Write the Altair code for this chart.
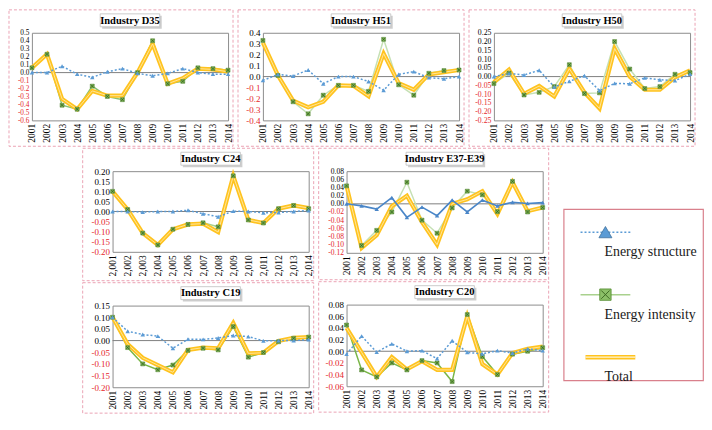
import altair as alt
import pandas as pd

FONT = "Liberation Serif, Times New Roman, serif"
S_NAME = "Energy structure"
I_NAME = "Energy intensity"
T_NAME = "Total"
SERIES = [S_NAME, I_NAME, T_NAME]

YEARS = ["2001", "2002", "2003", "2004", "2005", "2006", "2007",
         "2008", "2009", "2010", "2011", "2012", "2013", "2014"]

# ---- Industry D35
D35_structure = [0.00, 0.00, 0.08, -0.02, -0.06, 0.01, 0.05, -0.01, -0.04, -0.01, 0.05, 0.00, -0.02, -0.02]
D35_intensity = [0.06, 0.23, -0.41, -0.46, -0.17, -0.30, -0.34, 0.00, 0.40, -0.14, -0.11, 0.06, 0.05, 0.03]
D35_total = [0.06, 0.23, -0.33, -0.46, -0.23, -0.29, -0.29, 0.00, 0.36, -0.14, -0.07, 0.05, 0.04, 0.01]
D35_ticks = [-0.6, -0.5, -0.4, -0.3, -0.2, -0.1, 0.0, 0.1, 0.2, 0.3, 0.4, 0.5]

# ---- Industry H51
H51_structure = [-0.035, 0.02, 0.005, 0.06, -0.065, 0.0, 0.0, -0.045, -0.125, 0.02, 0.045, -0.01, -0.02, 0.0]
H51_intensity = [0.33, 0.01, -0.23, -0.34, -0.17, -0.08, -0.08, -0.135, 0.34, -0.075, -0.17, 0.03, 0.055, 0.06]
H51_total = [0.31, 0.01, -0.22, -0.28, -0.23, -0.08, -0.085, -0.18, 0.21, -0.06, -0.12, 0.02, 0.04, 0.06]
H51_ticks = [-0.4, -0.3, -0.2, -0.1, 0.0, 0.1, 0.2, 0.3, 0.4]

# ---- Industry H50
H50_structure = [0.0, 0.018, 0.009, 0.036, -0.059, -0.027, 0.005, -0.08, -0.039, -0.041, -0.007, -0.018, -0.023, 0.014]
H50_intensity = [-0.04, 0.02, -0.105, -0.09, -0.057, 0.068, -0.097, -0.093, 0.20, 0.043, -0.068, -0.057, 0.013, 0.023]
H50_total = [-0.032, 0.04, -0.098, -0.054, -0.113, 0.045, -0.09, -0.182, 0.16, 0.0, -0.075, -0.075, -0.004, 0.036]
H50_ticks = [-0.25, -0.20, -0.15, -0.10, -0.05, 0.0, 0.05, 0.10, 0.15, 0.20, 0.25]

# ---- Industry C24
C24_structure = [0.0, 0.0, -0.003, 0.0, 0.0, 0.006, -0.011, -0.026, 0.002, 0.0, -0.006, -0.005, 0.0, 0.005]
C24_intensity = [0.10, 0.01, -0.107, -0.166, -0.088, -0.064, -0.056, -0.076, 0.177, -0.042, -0.057, 0.014, 0.03, 0.014]
C24_total = [0.10, 0.01, -0.107, -0.166, -0.088, -0.064, -0.06, -0.102, 0.177, -0.042, -0.057, 0.014, 0.03, 0.017]
C24_ticks = [-0.20, -0.15, -0.10, -0.05, 0.0, 0.05, 0.10, 0.15, 0.20]

# ---- Industry E37-E39
E37_structure = [0.0, -0.005, -0.013, 0.015, -0.033, -0.008, -0.029, 0.009, -0.02, 0.009, -0.005, 0.004, 0.001, 0.003]
E37_intensity = [0.044, -0.102, -0.065, -0.02, 0.053, -0.04, -0.072, -0.01, 0.031, 0.022, -0.019, 0.055, -0.02, -0.009]
E37_total = [0.044, -0.108, -0.077, -0.006, 0.02, -0.045, -0.1, 0.0, 0.011, 0.031, -0.025, 0.053, -0.018, -0.009]
E37_ticks = [-0.12, -0.10, -0.08, -0.06, -0.04, -0.02, 0.0, 0.02, 0.04, 0.06, 0.08]

# ---- Industry C19
C19_structure = [0.10, 0.04, 0.026, 0.019, -0.033, 0.006, 0.005, 0.011, 0.022, 0.017, -0.001, 0.0, 0.0, 0.004]
C19_intensity = [0.10, -0.03, -0.10, -0.125, -0.105, -0.042, -0.033, -0.04, 0.06, -0.071, -0.051, -0.005, 0.01, 0.015]
C19_total = [0.10, -0.015, -0.074, -0.105, -0.136, -0.04, -0.03, -0.033, 0.076, -0.055, -0.052, -0.002, 0.012, 0.015]
C19_ticks = [-0.20, -0.15, -0.10, -0.05, 0.0, 0.05, 0.10, 0.15]

# ---- Industry C20
C20_structure = [-0.005, 0.026, -0.0015, 0.0127, 0.0, 0.001, -0.0127, 0.018, -0.002, -0.0045, 0.001, -0.003, 0.004, 0.001]
C20_intensity = [0.045, -0.032, -0.044, -0.02, -0.032, -0.016, -0.02, -0.052, 0.063, -0.009, -0.04, -0.005, 0.0, 0.006]
C20_total = [0.04, -0.002, -0.044, -0.01, -0.031, -0.017, -0.032, -0.032, 0.06, -0.022, -0.04, -0.003, 0.004, 0.008]
C20_ticks = [-0.06, -0.04, -0.02, 0.0, 0.02, 0.04, 0.06, 0.08]

BLUE = "#5B9BD5"
YELLOW = "#FFC31F"
YELLOW_IN = "#FFE59A"
PINK = "#EBA3B4"


def make_df(s, i, t):
    rows = []
    for name, vals in ((S_NAME, s), (I_NAME, i), (T_NAME, t)):
        for y, v in zip(YEARS, vals):
            rows.append({"year": y, "series": name, "value": v})
    return pd.DataFrame(rows)


def panel(title, s, i, t, ticks, fmt, width, height, pads, green="#A9D18E",
          blue_solid=False, comma=False, yfs=9):
    lp, rp, tp, bp = pads
    df = make_df(s, i, t)
    xlabel = "slice(datum.label, 0, 1) + ',' + slice(datum.label, 1)" if comma else "datum.label"
    X = alt.X("year:O", sort=YEARS, scale=alt.Scale(type="point", padding=0),
              axis=alt.Axis(labelAngle=-90, ticks=False, domain=False, grid=False,
                            labelFont=FONT, labelFontSize=9.5, labelPadding=3,
                            labelOverlap=False, labelExpr=xlabel, title=None,
                            minExtent=0))
    Y = alt.Y("value:Q", scale=alt.Scale(domain=[ticks[0], ticks[-1]], nice=False, zero=False),
              axis=alt.Axis(values=ticks, grid=False, ticks=False, domain=False,
                            labelExpr="replace(format(datum.value, '" + fmt + "'), '\u2212', '-')",
                            labelFont=FONT, labelFontSize=yfs, labelPadding=3,
                            labelOverlap=False, labelBound=False, minExtent=0,
                            labelColor={"expr": "datum.value < -0.00001 ? '#E5262B' : '#000000'"},
                            title=None))
    base = alt.Chart(df).encode(x=X, y=Y)
    zero = alt.Chart(pd.DataFrame({"value": [0.0]})).mark_rule(
        color="#7F7F7F", strokeWidth=1).encode(y=Y)
    fs = base.transform_filter(alt.datum.series == S_NAME)
    fi = base.transform_filter(alt.datum.series == I_NAME)
    ft = base.transform_filter(alt.datum.series == T_NAME)
    g_line = fi.mark_line(color=green, strokeWidth=1.5)
    t_out = ft.mark_line(color=YELLOW, strokeWidth=4.2)
    t_in = ft.mark_line(color=YELLOW_IN, strokeWidth=1.0)
    if blue_solid:
        s_line = fs.mark_line(color="#4A86C8", strokeWidth=1.6)
    else:
        s_line = fs.mark_line(color=BLUE, strokeWidth=1.5, strokeDash=[2, 2])
    g_pts = fi.mark_point(shape="square", filled=True, size=16, color="#7DB356",
                          stroke="#4D7F2E", strokeWidth=0.5, opacity=1)
    g_x = fi.mark_point(shape="M-1,-1L1,1M-1,1L1,-1", filled=False, size=9,
                        color="#2F5E18", strokeWidth=0.7, opacity=1)
    s_pts = fs.mark_point(shape="triangle-up", filled=True, size=20,
                          color="#4A86C8" if blue_solid else BLUE, opacity=1)

    # boxed title above the plot (Excel-style title with border and shadow)
    tdf = pd.DataFrame({"t": [title]})
    bw = 4.4 * len(title) + 7
    cx = width / 2
    shadow = alt.Chart(tdf).mark_rect(fill="#A6A6A6", opacity=0.55).encode(
        x=alt.value(cx - bw / 2 + 2), x2=alt.value(cx + bw / 2 + 2),
        y=alt.value(-17), y2=alt.value(-4))
    box = alt.Chart(tdf).mark_rect(fill="#FFFFFF", stroke="#BFBFBF", strokeWidth=0.8).encode(
        x=alt.value(cx - bw / 2), x2=alt.value(cx + bw / 2),
        y=alt.value(-19), y2=alt.value(-6))
    ttl = alt.Chart(tdf).mark_text(font=FONT, fontSize=10.5, fontWeight="bold",
                                   color="#000000", align="center", baseline="middle").encode(
        x=alt.value(cx), y=alt.value(-12.3), text="t:N")
    # dashed chart-area border around the panel
    frame = alt.Chart(tdf).mark_rect(fillOpacity=0, stroke=PINK, strokeWidth=1,
                                     strokeDash=[3, 2]).encode(
        x=alt.value(-lp), x2=alt.value(width + rp),
        y=alt.value(-tp), y2=alt.value(height + bp))

    return alt.layer(frame, zero, g_line, t_out, t_in, s_line, g_pts, g_x, s_pts,
                     shadow, box, ttl).properties(width=width, height=height)


def spacer(w, h):
    return alt.Chart(pd.DataFrame({"a": [0]})).mark_point(opacity=0, size=1).encode(
        x=alt.value(1), y=alt.value(1)).properties(
        width=w, height=h, view=alt.ViewBackground(stroke=None))


d35 = panel("Industry D35", D35_structure, D35_intensity, D35_total, D35_ticks, ".1f", 197, 88,
            (23, 5, 23, 26), green="#8DC26F", yfs=7.3)
h51 = panel("Industry H51", H51_structure, H51_intensity, H51_total, H51_ticks, ".1f", 197, 88,
            (25, 5, 23, 26), green="#C5E0B4")
h50 = panel("Industry H50", H50_structure, H50_intensity, H50_total, H50_ticks, ".2f", 197, 88,
            (25, 5, 23, 26), green="#C5E0B4", yfs=7.8)

c24 = panel("Industry C24", C24_structure, C24_intensity, C24_total, C24_ticks, ".2f", 197, 81,
            (30, 5, 23, 29), green="#A9D18E", comma=True)
c19 = panel("Industry C19", C19_structure, C19_intensity, C19_total, C19_ticks, ".2f", 197, 82,
            (30, 5, 23, 26), green="#7AB648")
e37 = panel("Industry E37-E39", E37_structure, E37_intensity, E37_total, E37_ticks, ".2f", 197, 82,
            (28, 6, 23, 27), green="#C5E0B4", blue_solid=True, yfs=7.6)
c20 = panel("Industry C20", C20_structure, C20_intensity, C20_total, C20_ticks, ".2f", 197, 82,
            (28, 6, 23, 26), green="#7AB648")

# ---- legend panel
leg_df = pd.DataFrame({"series": SERIES})
LY = alt.Y("series:N", sort=SERIES, scale=alt.Scale(type="point", padding=0.37), axis=None)
lb = alt.Chart(leg_df)
ls = lb.transform_filter(alt.datum.series == S_NAME)
li = lb.transform_filter(alt.datum.series == I_NAME)
lt = lb.transform_filter(alt.datum.series == T_NAME)
leg_layers = [
    ls.mark_rule(color=BLUE, strokeWidth=1.5, strokeDash=[2, 2]).encode(
        x=alt.value(17), x2=alt.value(67), y=LY),
    ls.mark_point(shape="triangle-up", filled=True, size=170, color=BLUE,
                  stroke="#41719C", strokeWidth=0.8, opacity=1).encode(x=alt.value(42), y=LY),
    li.mark_rule(color="#A9D18E", strokeWidth=1.5).encode(
        x=alt.value(17), x2=alt.value(67), y=LY),
    li.mark_point(shape="square", filled=True, size=130, color="#8CC068",
                  stroke="#4F8A2B", strokeWidth=0.8, opacity=1).encode(x=alt.value(42), y=LY),
    li.mark_point(shape="M-1,-1L1,1M-1,1L1,-1", filled=False, size=70,
                  color="#3D6B22", strokeWidth=1, opacity=1).encode(x=alt.value(42), y=LY),
    lt.mark_rule(color=YELLOW, strokeWidth=4.5).encode(
        x=alt.value(22), x2=alt.value(72), y=LY),
    lt.mark_rule(color="#FFF6D5", strokeWidth=1.3).encode(
        x=alt.value(22), x2=alt.value(72), y=LY),
    lb.mark_text(align="left", baseline="middle", dy=20, font=FONT, fontSize=14,
                 color="#1a1a1a").encode(x=alt.value(41), y=LY, text="series:N"),
]
legend = alt.layer(*leg_layers).properties(
    width=140, height=172,
    view=alt.ViewBackground(stroke="#D9808C", strokeWidth=1.2),
)

top = alt.hconcat(d35, h51, h50, spacing=0)
panels_bottom = alt.hconcat(spacer(50, 10),
                            alt.vconcat(c24, c19, spacing=0),
                            alt.vconcat(e37, c20, spacing=0),
                            spacing=0)
bottom = alt.hconcat(panels_bottom,
                     alt.vconcat(spacer(140, 37), legend, spacing=0),
                     spacing=11)

chart = alt.vconcat(top, bottom, spacing=0).properties(
    padding=0, background="#FFFFFF"
).configure(font=FONT).configure_view(stroke="#8C8C8C", strokeWidth=1)

chart.save("out.html", embed_options={"renderer": "svg", "actions": False})
